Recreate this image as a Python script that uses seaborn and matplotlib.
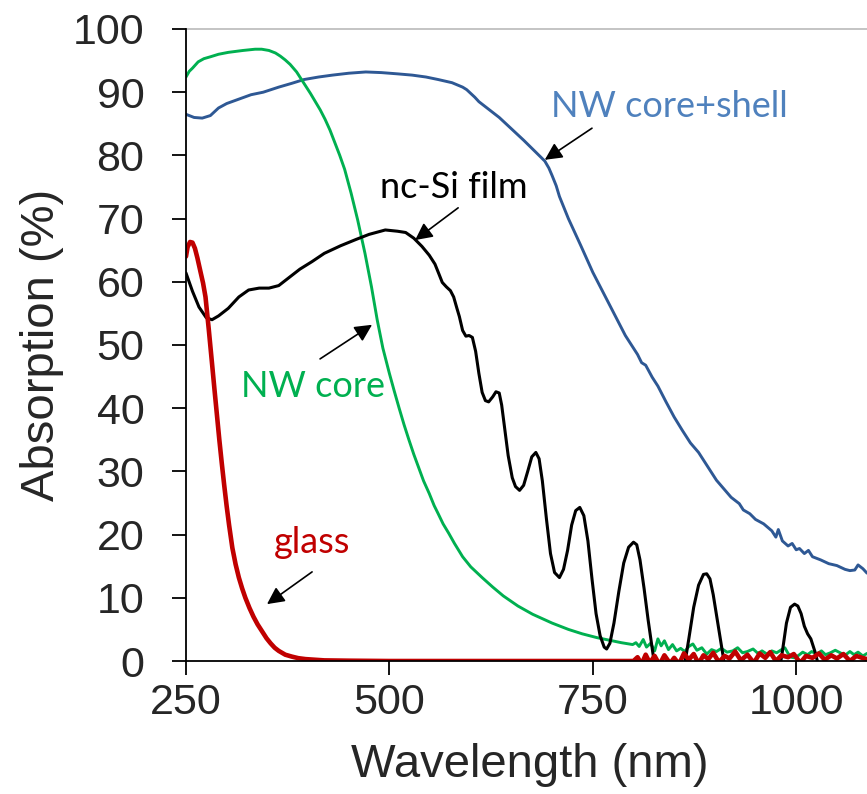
import matplotlib
matplotlib.use("Agg")
import matplotlib.pyplot as plt
import seaborn as sns
import pandas as pd

# ---------------- data ----------------
shell_x = [250, 260, 270, 280, 290, 300, 315, 330, 345, 364, 380, 395, 413, 430, 450, 471, 490,
           510, 528, 545, 560, 577, 590, 595, 600, 605, 610, 620, 635, 650, 665, 680, 691, 696, 700,
           705, 709, 720, 735, 750, 758, 770, 780, 790, 799, 805, 810, 815, 823, 830, 840, 850, 860,
           870, 880, 890, 902, 910, 920, 930, 935, 943, 950, 960, 970, 975, 978, 983, 990, 995, 1000,
           1004, 1010, 1015, 1020, 1030, 1040, 1050, 1060, 1066, 1072, 1076, 1082, 1087]
shell_y = [86.5, 86.0, 85.9, 86.3, 87.5, 88.2, 88.9, 89.6, 90.0, 90.8, 91.4, 92.0, 92.4, 92.7, 93.0,
           93.2, 93.1, 92.9, 92.7, 92.4, 92.0, 91.5, 90.8, 90.4, 89.8, 89.2, 88.5, 87.5, 86.0, 84.2,
           82.4, 80.5, 79.1, 78.0, 76.8, 75.2, 73.5, 70.0, 65.8, 61.5, 59.5, 56.5, 54.0, 51.5, 49.7,
           48.5, 47.2, 46.8, 44.9, 43.5, 41.0, 38.6, 36.5, 34.5, 33.0, 31.0, 28.6, 27.4, 25.9, 24.9,
           23.9, 23.3, 22.4, 21.7, 20.6, 19.6, 20.8, 19.0, 18.2, 18.6, 17.6, 17.8, 17.0, 17.5, 16.5,
           16.0, 15.4, 15.1, 14.5, 14.3, 14.4, 15.2, 14.6, 13.9]

core_x = [250, 254, 258, 265, 272, 280, 290, 302, 320, 335, 343, 352, 360, 366, 372, 378, 386, 391,
          397, 403, 409, 415, 421, 427, 433, 439, 445, 453, 461, 470, 478, 485, 492, 500, 506, 512,
          518, 524, 530, 536, 542, 549, 555, 560, 566, 573, 580, 590, 600, 614, 627, 640, 658, 676,
          700, 720, 737, 755, 770, 785, 799, 803, 807, 812, 816, 821, 826, 830, 834, 838, 843, 848,
          853, 858, 863, 868, 873, 878, 884, 890, 896, 902, 908, 915, 922, 928, 934, 940, 947, 953,
          958, 964, 970, 976, 982, 986, 990, 994, 998, 1003, 1008, 1014, 1019, 1025, 1031, 1036,
          1042, 1048, 1054, 1060, 1066, 1071, 1076, 1082, 1087]
core_y = [92.4, 93.3, 93.8, 94.8, 95.3, 95.6, 96.0, 96.3, 96.6, 96.8, 96.8, 96.6, 96.2, 95.7, 95.1,
          94.4, 93.2, 92.2, 91.0, 89.8, 88.5, 87.2, 85.7, 84.0, 82.0, 80.0, 77.8, 74.0, 69.8, 64.5,
          59.2, 54.0, 49.5, 45.5, 42.7, 40.0, 37.4, 35.0, 32.7, 30.6, 28.5, 26.5, 24.6, 23.3, 21.7,
          20.2, 18.6, 16.5, 14.9, 13.2, 11.7, 10.3, 8.7, 7.4, 6.0, 5.0, 4.3, 3.7, 3.3, 2.9, 2.6, 2.9,
          2.3, 3.4, 2.2, 2.8, 1.6, 3.5, 2.4, 3.2, 1.8, 2.6, 1.6, 2.0, 1.5, 2.3, 2.7, 1.7, 2.1, 1.1,
          1.8, 1.5, 2.0, 1.4, 1.6, 2.1, 1.3, 1.5, 1.9, 1.2, 1.6, 1.1, 1.6, 1.3, 1.8, 2.1, 1.2, 0.6,
          0.5, 0.9, 1.4, 1.0, 1.5, 1.1, 1.6, 1.0, 1.3, 1.7, 1.3, 0.9, 1.5, 1.0, 1.4, 0.8, 1.2]

film_x = [250, 258, 266, 275, 282, 290, 302, 315, 327, 340, 352, 364, 375, 390, 405, 420, 440, 459,
          475, 495, 510, 520, 530, 540, 549, 556, 561, 565, 570, 575, 579, 583, 586, 590, 594, 598,
          602, 606, 610, 614, 618, 622, 627, 631, 635, 638, 642, 646, 651, 655, 660, 665, 670, 675,
          680, 684, 688, 693, 698, 703, 709, 714, 719, 724, 729, 734, 739, 744, 749, 754, 759, 764,
          767, 771, 776, 782, 788, 794, 800, 804, 808, 813, 818, 823, 828, 835, 858, 863, 868, 874,
          880, 886, 890, 894, 898, 903, 908, 913, 920, 972, 978, 983, 988, 993, 998, 1002, 1006,
          1010, 1014, 1018, 1023, 1028, 1034, 1087]
film_y = [61.4, 58.5, 56.0, 54.3, 54.0, 54.6, 55.8, 57.6, 58.7, 59.0, 59.0, 59.4, 60.5, 62.0, 63.2,
          64.5, 65.7, 66.7, 67.5, 68.2, 68.0, 67.8, 66.9, 65.6, 64.2, 62.8, 61.2, 59.9, 59.2, 58.6,
          57.6, 55.8, 54.5, 52.3, 51.4, 51.5, 51.2, 49.0, 45.5, 42.5, 41.2, 41.0, 41.8, 42.6, 42.4,
          40.5, 36.5, 32.5, 29.0, 27.6, 27.0, 27.8, 30.0, 32.3, 33.0, 32.0, 28.5, 22.5, 17.0, 14.0,
          13.2, 14.5, 17.5, 21.5, 23.8, 24.3, 23.0, 19.0, 13.0, 7.5, 4.0, 2.2, 1.9, 2.8, 6.0, 11.0,
          15.5, 18.0, 18.8, 18.4, 16.0, 11.5, 6.5, 2.0, -2.5, -8.0, -5.0, -0.5, 3.5, 8.5, 12.0, 13.7,
          13.8, 13.0, 10.5, 6.5, 2.5, -1.5, -8.0, -8.0, -2.5, 1.5, 6.0, 8.5, 9.0, 8.7, 7.5, 5.5, 4.3,
          3.5, 1.5, -1.0, -6.0, -8.0]

glass_x = [250, 252, 255, 258, 261, 264, 268, 271, 274, 278, 282, 285, 288, 291, 294, 297, 300, 303,
           307, 311, 315, 319, 323, 328, 333, 338, 344, 349, 354, 359, 364, 372, 380, 388, 397, 420,
           450, 500, 600, 700, 800, 805, 810, 815, 820, 826, 832, 838, 845, 850, 856, 862, 868, 874,
           880, 886, 892, 898, 905, 912, 918, 925, 932, 940, 948, 955, 962, 968, 975, 982, 990, 997,
           1005, 1012, 1020, 1028, 1035, 1043, 1050, 1058, 1066, 1074, 1081, 1087]
glass_y = [64.0, 65.5, 66.3, 66.2, 65.3, 63.8, 61.5, 59.8, 57.6, 52.5, 47.1, 43.0, 39.0, 35.0, 31.3,
           27.8, 24.5, 21.5, 17.9, 15.3, 13.2, 11.5, 10.0, 8.4, 7.0, 5.8, 4.6, 3.6, 2.8, 2.1, 1.6,
           1.0, 0.7, 0.45, 0.3, 0.1, 0.05, 0.0, 0.0, 0.0, 0.0, 0.6, -0.5, 1.0, -0.3, 0.8, -0.6, 0.9,
           -0.4, 0.5, -0.5, 1.2, 0.2, 1.1, -0.4, 0.9, 0.3, 1.3, -0.2, 0.8, 0.4, 1.5, 0.1, 1.0, -0.3,
           1.2, 0.5, 1.4, 0.0, 0.9, 0.6, 1.1, -0.3, 0.8, 0.5, 1.2, 0.2, 0.9, 0.4, 1.1, 0.0, 0.8, 0.5,
           0.3]

x_ticks = [250, 500, 750, 1000]
y_ticks = [0, 10, 20, 30, 40, 50, 60, 70, 80, 90, 100]

labels = ["NW core+shell", "nc-Si film", "NW core", "glass"]

# ---------------- style ----------------
sns.set_style("white")
plt.rcParams["font.family"] = ["Liberation Sans", "DejaVu Sans"]

fig = plt.figure(figsize=(8.67, 7.94), dpi=100)
ax = fig.add_axes([0.2145, 0.1675, 0.7855, 0.796])

frames = []
for name, xs, ys in [(labels[0], shell_x, shell_y), (labels[1], film_x, film_y),
                     (labels[2], core_x, core_y), (labels[3], glass_x, glass_y)]:
    frames.append(pd.DataFrame({"wl": xs, "abs": ys, "series": name}))
df = pd.concat(frames, ignore_index=True)

palette = {labels[0]: "#2E5894", labels[1]: "#000000", labels[2]: "#00B050", labels[3]: "#C00000"}
widths = {labels[0]: 2.1, labels[1]: 2.2, labels[2]: 2.1, labels[3]: 3.3}

for name in [labels[0], labels[2], labels[1], labels[3]]:
    sub = df[df["series"] == name]
    sns.lineplot(data=sub, x="wl", y="abs", color=palette[name], lw=widths[name],
                 ax=ax, sort=False, estimator=None, legend=False)

ax.set_xlim(250, 1087)
ax.set_ylim(0, 100)
ax.set_xticks(x_ticks)
ax.set_yticks(y_ticks)
ax.axhline(100, color="#BFBFBF", lw=1.3, zorder=0, clip_on=False)

for s in ["top", "right"]:
    ax.spines[s].set_visible(False)
for s in ["left", "bottom"]:
    ax.spines[s].set_color("black")
    ax.spines[s].set_linewidth(1.3)
    ax.spines[s].set_zorder(5)

ax.tick_params(axis="both", direction="out", length=10, width=1.3, color="black",
               labelsize=31, bottom=True, left=True)
ax.tick_params(axis="y", pad=20)
ax.tick_params(axis="x", pad=6)

ax.set_xlabel("Wavelength (nm)", fontsize=34, va="center")
ax.set_ylabel("Absorption (%)", fontsize=34, va="center")
ax.xaxis.set_label_coords(0.505, -0.165)
ax.yaxis.set_label_coords(-0.2115, 0.5)

afont = ["Lato", "DejaVu Sans"]
arrow = dict(arrowstyle="-|>", color="black", lw=1.2, mutation_scale=26, shrinkA=0, shrinkB=0)

ax.text(844, 86.1, labels[0], color="#4F81BD", fontsize=26, family=afont, ha="center", va="baseline")
ax.annotate("", xy=(691, 79.3), xytext=(749, 84.3), arrowprops=arrow)

ax.text(579.6, 73.3, labels[1], color="black", fontsize=26, family=afont, ha="center", va="baseline")
ax.annotate("", xy=(531.6, 66.6), xytext=(584.5, 71.7), arrowprops=arrow)

ax.text(406, 41.8, labels[2], color="#00B050", fontsize=26, family=afont, ha="center", va="baseline")
ax.annotate("", xy=(478.7, 53.2), xytext=(414.8, 47.8), arrowprops=arrow)

ax.text(405, 17.1, labels[3], color="#C00000", fontsize=26, family=afont, ha="center", va="baseline")
ax.annotate("", xy=(349.6, 9.0), xytext=(405, 14.1), arrowprops=arrow)

fig.savefig("out.png", dpi=100)
